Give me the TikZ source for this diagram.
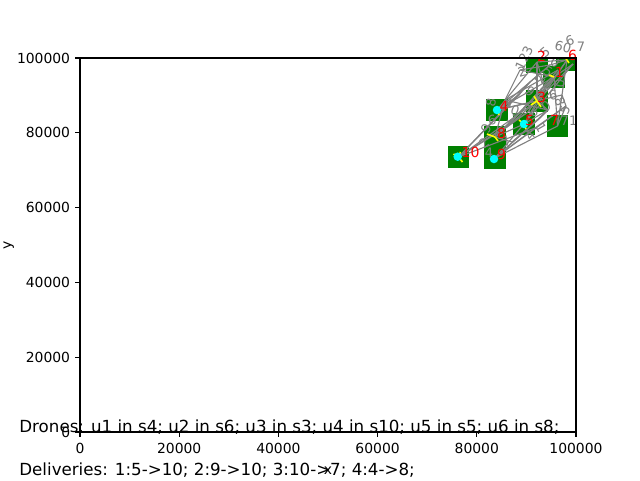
\documentclass[tikz,border=0pt]{standalone}
\usepackage{fontspec}
\setmainfont{DejaVu Sans}
\usetikzlibrary{calc}
\definecolor{mgreen}{RGB}{0,128,0}
\definecolor{mcyan}{RGB}{0,255,255}
\definecolor{myellow}{RGB}{255,255,0}
\definecolor{mred}{RGB}{255,0,0}
\definecolor{mgray}{RGB}{128,128,128}
\begin{document}
\begin{tikzpicture}[x=1pt,y=-1pt,
  tick/.style={line width=1.1pt},
  ticklbl/.style={font=\fontsize{13.9}{16}\selectfont,inner sep=0pt},
  big/.style={font=\fontsize{16.67}{20}\selectfont,inner sep=0pt,anchor=base west},
  station/.style={fill=mgreen,draw=none,minimum size=21.5pt,inner sep=0pt,rectangle},
  stlbl/.style={font=\fontsize{14}{16}\selectfont,text=mred,inner sep=0pt,anchor=base west},
  glbl/.style={font=\fontsize{13}{15}\selectfont,text=mgray,inner sep=0pt},
  edge/.style={draw=mgray,line width=1.1pt},
  yel/.style={draw=myellow,line width=1.6pt},
  dot/.style={circle,fill=mcyan,minimum size=8.5pt,inner sep=0pt}]
\useasboundingbox (0,0) rectangle (640,480);
\fill[white] (0,0) rectangle (640,480);
% station coordinates
\coordinate (p1) at (554,77);
\coordinate (p2) at (537,62);
\coordinate (p3) at (537,101);
\coordinate (p4) at (497,110);
\coordinate (p5) at (524,124);
\coordinate (p6) at (567,60);
\coordinate (p7) at (557.5,126);
\coordinate (p8) at (495,137);
\coordinate (p9) at (495,158);
\coordinate (p10) at (458.5,157);
% customer points
\coordinate (c1) at (545,88);
\coordinate (c2) at (530,82);
\coordinate (c3) at (562,95);
\coordinate (c4) at (548,110);
\coordinate (c5) at (519,95);
\coordinate (c6) at (507,127);
\coordinate (c7) at (540,118);
\coordinate (c8) at (566,106);
\coordinate (c9) at (573,64);
\coordinate (c10) at (512,142);
\coordinate (c11) at (528,112);
\coordinate (c12) at (550,65);
\coordinate (c13) at (505,100);
\coordinate (c14) at (520,70);
\coordinate (c15) at (558,70);
\coordinate (c16) at (535,128);
\begin{scope}
\clip (80,58) rectangle (576,432);
\foreach \i in {1,...,10} \node[station] (s\i) at (p\i) {};
% grey connectors
\foreach \a/\b in {p10/p3,p10/c2,p10/c11,p10/c6,p10/c5,p9/p7,p9/c4,p9/p5,p9/c7,p9/c8,p8/p3,p8/p1,p8/c1,p8/c10,p4/p2,p4/c12,p4/p1,p4/c3,p4/c5,p5/p6,p5/c1,p5/c9,p3/p6,p3/c9,p3/p2,p7/p1,p7/c3,p7/c8,p2/p6,p1/c9,p5/c4,p6/c3,p1/c1,c2/c12,c5/c2,c11/c1,c7/c4,c6/c11,c10/c7,p8/p5,p4/p3,p3/c4,c3/c8,p2/c1,c12/p6,c13/c14,c13/c15,p8/c13,p10/c16,c14/p1,c16/c8,c6/c15,p9/c16,c14/c12,c13/c4}
  \draw[edge] (\a) -- (\b);
% yellow markers
\draw[yel] (p10) -- ++(-5,-3);
\draw[yel] (p10) -- ++(4,5);
\draw[yel] (p10) -- ++(2,-5);
\draw[yel] (p8) -- ++(-8,-3);
\draw[yel] (p8) -- ++(3,4);
\draw[yel] (p3) -- ++(-6,4);
\draw[yel] (p3) -- ++(4,6);
\draw[yel] (p3) -- ++(-3,-5);
\draw[yel] (p5) -- ++(-5,-4);
\draw[yel] (p5) -- ++(2,5);
\draw[yel] (p4) -- ++(2,5);
\draw[yel] (p6) -- ++(-3,-4);
\draw[yel] (p6) -- ++(2,3);
\draw[yel] (p1) -- ++(-5,-2);
% cyan dots
\node[dot] (d4) at (p4) {};
\node[dot] (d5) at (p5) {};
\node[dot] (d9) at (494,159) {};
\node[dot] (d10) at (457.7,156.7) {};
\end{scope}
% grey edge labels
\node[glbl,rotate=65] (g1) at (524,58) {123};
\node[glbl,rotate=-15] (g2) at (563,47) {60};
\node[glbl] (g3) at (581,47) {7};
\node[glbl,rotate=20] (g4) at (570,41) {6};
\node[glbl,rotate=40] (g5) at (545,52) {5};
\node[glbl,rotate=-30] (g6) at (548,72) {5};
\node[glbl,rotate=60] (g7) at (540,80) {2};
\node[glbl,rotate=80] (g8) at (560,84) {0};
\node[glbl,rotate=10] (g9) at (553,95) {6};
\node[glbl,rotate=-40] (g10) at (530,92) {9};
\node[glbl,rotate=30] (g11) at (546,106) {0};
\node[glbl,rotate=70] (g12) at (565,110) {5};
\node[glbl] (g13) at (569,121) {71};
\node[glbl,rotate=-20] (g14) at (515,110) {0};
\node[glbl,rotate=50] (g15) at (530,135) {4};
\node[glbl,rotate=-60] (g16) at (541,128) {1};
\node[glbl,rotate=80] (g17) at (491,103) {8};
\node[glbl,rotate=10] (g18) at (492,120) {6};
\node[glbl,rotate=-10] (g19) at (508,104) {3};
\node[glbl,rotate=40] (g20) at (484,143) {2};
\node[glbl] (g21) at (489,153) {4};
\node[glbl,rotate=30] (g22) at (506,141) {7};
\node[glbl,rotate=-50] (g23) at (512,120) {1};
\node[glbl,rotate=15] (g24) at (522,72) {2};
\node[glbl,rotate=-70] (g25) at (560,102) {8};
\node[glbl,rotate=60] (g26) at (486,129) {9};
\node[glbl,rotate=-30] (g27) at (555,62) {0};
\node[glbl,rotate=45] (g28) at (533,112) {6};
% station labels
\node[stlbl] (l1) at (555,77) {1};
\node[stlbl] (l2) at (537,61) {2};
\node[stlbl] (l3) at (537,102) {3};
\node[stlbl] (l4) at (499.5,111) {4};
\node[stlbl] (l5) at (525,125) {5};
\node[stlbl] (l6) at (568,60) {6};
\node[stlbl] (l7) at (550,125.5) {7};
\node[stlbl] (l8) at (497,138) {8};
\node[stlbl] (l9) at (497,159) {9};
\node[stlbl] (l10) at (461.5,157) {10};
% axes frame
\draw[line width=1.1pt] (80,58) rectangle (576,432);
\foreach \x/\t in {80/0,179.2/20000,278.4/40000,377.6/60000,476.8/80000,576/100000} {
  \draw[tick] (\x,432) -- (\x,436.9);
  \node[ticklbl,anchor=base] at (\x,453.5) {\t};
}
\foreach \y/\t in {432/0,357.2/20000,282.4/40000,207.6/60000,132.8/80000,58/100000} {
  \draw[tick] (80,\y) -- (75.1,\y);
  \node[ticklbl,anchor=east] at (70.3,\y) {\t};
}
\node[ticklbl,anchor=base] (xl) at (328,474) {x};
\node[ticklbl,rotate=90,anchor=base] (yl) at (11,245) {y};
\node[big] (dr) at (19.2,432) {Drones: u1 in s4; u2 in s6; u3 in s3; u4 in s10; u5 in s5; u6 in s8;};
\node[big] (dl) at (19.2,475.2) {Deliveries: 1:5->10; 2:9->10; 3:10->7; 4:4->8;};
\end{tikzpicture}
\end{document}
